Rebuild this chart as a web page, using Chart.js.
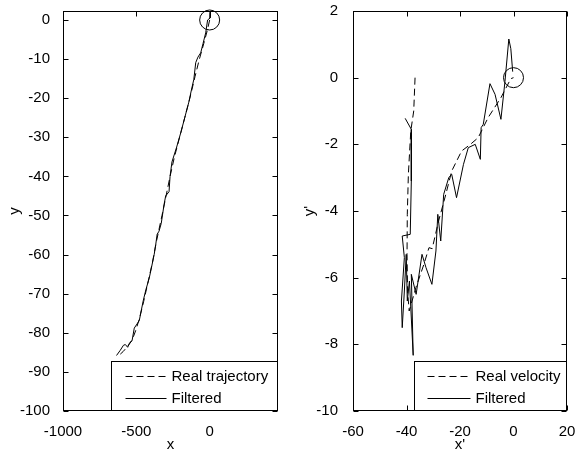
<!DOCTYPE html>
<html>
<head>
<meta charset="utf-8">
<script src="https://cdn.jsdelivr.net/npm/chart.js@4/dist/chart.umd.min.js"></script>
<style>
  html, body { margin: 0; padding: 0; background: #fff; }
  #wrap { position: relative; width: 578px; height: 456px; }
  canvas { position: absolute; top: 0; }
  #posChart { left: 0; }
  #velChart { left: 289px; }
</style>
</head>
<body>
<div id="wrap">
  <canvas id="posChart" width="289" height="456"></canvas>
  <canvas id="velChart" width="289" height="456"></canvas>
</div>
<script>
// Left panel: position
const posXLimits = [-1000, 466];
const posYLimits = [-100, 2.3];
const posXTicks = [-1000, -500, 0];
const posYTicks = [-100, -90, -80, -70, -60, -50, -40, -30, -20, -10, 0];
const realTrajX = [0, -15, -40, -70, -100, -135, -170, -205, -240, -270, -300, -325, -345, -365, -390, -420, -450, -480, -505, -530, -560, -590, -625];
const realTrajY = [0, -2.5, -6, -10, -14.5, -20, -25, -30, -35, -40, -45.5, -50, -53.5, -57, -62, -67, -72, -76.5, -79.5, -82, -83.5, -84.8, -86];
const filtTrajX = [5, 3, -14, -27, -45, -61, -80, -95, -108, -125, -142, -170, -196, -225, -257, -270, -277, -300, -311, -330, -345, -358, -368, -378, -395, -412, -435, -453, -470, -480, -500, -514, -529, -545, -559, -575, -588, -610, -635];
const filtTrajY = [2, 0.5, 0, -3.3, -6, -8.4, -9.5, -10.9, -15.2, -18, -21, -25, -28.7, -32.5, -36.3, -40, -43.9, -45, -47.2, -52, -54, -54.8, -57.5, -59.9, -63, -66, -69, -71.8, -75, -76.9, -78, -78.8, -82, -82.5, -83.7, -83, -83.2, -84.5, -85.8];

// Right panel: velocity
const velXLimits = [-60, 20];
const velYLimits = [-10, 2];
const velXTicks = [-60, -40, -20, 0, 20];
const velYTicks = [-10, -8, -6, -4, -2, 0, 2];
const realVelX = [-36.8, -37.3, -38.4, -39.3, -39.7, -39.8, -39.6, -39, -36.5, -33.5, -31.6, -30.4, -28, -25.3, -23.1, -19.4, -16.1, -13.2, -9.5, -4.7, -1, 0];
const realVelY = [0, -1.0, -1.6, -2.9, -4.1, -5.3, -6.4, -7, -6.3, -5.6, -5.1, -5.13, -4.3, -3.5, -2.8, -2.2, -2.0, -1.8, -1.2, -0.6, -0.03, 0];
const filtVelX = [-40.5, -38.2, -38.2, -38.6, -41.6, -40.8, -41.9, -41.6, -40.8, -40.1, -39.7, -38.9, -37.5, -38.2, -36.4, -34.2, -32.7, -30.5, -29, -28.3, -27.2, -26.1, -24.2, -23.1, -21.3, -18.7, -16.9, -14.3, -12.4, -12.1, -11.3, -8.8, -6.9, -4.7, -3.2, -1.75, -1.0, -0.3];
const filtVelY = [-1.22, -1.55, -3.1, -4.7, -4.75, -5.4, -6.7, -7.5, -6.4, -5.3, -6.7, -6.1, -8.33, -5.9, -6.5, -5.3, -5.7, -6.2, -5.2, -4.1, -4.9, -3.5, -3.0, -2.9, -3.6, -2.6, -2.1, -2.0, -2.45, -1.5, -1.4, -0.18, -0.5, -1.25, -0.12, 1.16, 0.87, 0.18];

const FONT = { family: "'Liberation Sans', Arial, sans-serif", size: 15 };
const zip = (xs, ys) => xs.map((x, i) => ({ x: x, y: ys[i] }));

// MATLAB style: full box, inward ticks on all four sides, legend box in the lower right
const matlabBox = {
  id: 'matlabBox',
  afterDatasetsDraw(chart) {
    const { ctx, chartArea: a, scales: { x, y } } = chart;
    const L = Math.round(a.left) + 0.5, R = Math.round(a.right) - 0.5;
    const T = Math.round(a.top) + 0.5, B = Math.round(a.bottom) - 0.5;
    ctx.save();
    ctx.strokeStyle = '#000';
    ctx.lineWidth = 1;
    ctx.strokeRect(L, T, R - L, B - T);
    ctx.beginPath();
    x.ticks.forEach(t => {
      const px = Math.round(x.getPixelForValue(t.value)) + 0.5;
      ctx.moveTo(px, B); ctx.lineTo(px, B - 5);
      ctx.moveTo(px, T); ctx.lineTo(px, T + 5);
    });
    y.ticks.forEach(t => {
      const py = Math.round(y.getPixelForValue(t.value)) + 0.5;
      ctx.moveTo(L, py); ctx.lineTo(L + 5, py);
      ctx.moveTo(R, py); ctx.lineTo(R - 5, py);
    });
    ctx.stroke();
    ctx.restore();
  },
  afterDraw(chart, args, opts) {
    const { ctx, chartArea: a } = chart;
    const R = Math.round(a.right) - 0.5, B = Math.round(a.bottom) - 0.5;
    const left = Math.round(a.right - opts.width) + 0.5;
    const top = Math.round(a.bottom - 50) + 0.5;
    ctx.save();
    ctx.fillStyle = '#fff';
    ctx.fillRect(left, top, R - left, B - top);
    ctx.strokeStyle = '#000';
    ctx.lineWidth = 1;
    ctx.strokeRect(left, top, R - left, B - top);
    const items = chart.data.datasets.filter(d => d.label);
    ctx.font = `${FONT.size}px ${FONT.family}`;
    ctx.fillStyle = '#000';
    ctx.textBaseline = 'middle';
    items.forEach((d, i) => {
      const ry = Math.round(top + 14 + i * 22) + 0.5;
      ctx.setLineDash(d.borderDash || []);
      ctx.beginPath();
      ctx.moveTo(left + opts.sampleStart, ry);
      ctx.lineTo(left + opts.sampleEnd, ry);
      ctx.stroke();
      ctx.setLineDash([]);
      ctx.fillText(d.label, left + opts.textStart, ry);
    });
    ctx.restore();
  }
};

function makeChart(id, cfg) {
  return new Chart(document.getElementById(id), {
    type: 'scatter',
    data: {
      datasets: [
        { label: cfg.realLabel, data: zip(cfg.realX, cfg.realY), showLine: true, borderColor: '#000', borderWidth: 1, borderDash: [7, 4], pointRadius: 0, order: 2 },
        { label: 'Filtered', data: zip(cfg.filtX, cfg.filtY), showLine: true, borderColor: '#000', borderWidth: 1, pointRadius: 0, order: 1 },
        { data: [{ x: 0, y: 0 }], pointRadius: 10, pointBorderColor: '#000', pointBackgroundColor: 'rgba(0,0,0,0)', pointBorderWidth: 1, clip: false, order: 0 }
      ]
    },
    options: {
      responsive: false,
      animation: false,
      devicePixelRatio: 1,
      layout: { padding: { left: 0, top: cfg.padTop, right: cfg.padRight, bottom: 0 } },
      plugins: {
        legend: { display: false },
        tooltip: { enabled: false },
        matlabBox: cfg.legend
      },
      scales: {
        x: {
          type: 'linear',
          min: cfg.xLim[0], max: cfg.xLim[1],
          border: { display: false },
          grid: { display: false },
          ticks: { color: '#000', font: FONT, padding: 4, maxRotation: 0, autoSkip: false, callback: v => String(v) },
          title: { display: true, text: cfg.xTitle, color: '#000', font: FONT, padding: { top: 0, bottom: 2 } },
          afterBuildTicks: s => { s.ticks = cfg.xTicks.map(v => ({ value: v })); },
          afterFit: s => { s.height = 45; s.paddingLeft = 0; s.paddingRight = 0; }
        },
        y: {
          type: 'linear',
          min: cfg.yLim[0], max: cfg.yLim[1],
          border: { display: false },
          grid: { display: false },
          ticks: { color: '#000', font: FONT, padding: cfg.yPad, autoSkip: false, callback: v => String(v) },
          title: { display: true, text: cfg.yTitle, color: '#000', font: FONT, padding: { top: cfg.yTitlePad, bottom: 0 } },
          afterBuildTicks: s => { s.ticks = cfg.yTicks.map(v => ({ value: v })); },
          afterFit: s => { s.width = cfg.yWidth; s.paddingTop = 0; s.paddingBottom = 0; }
        }
      }
    },
    plugins: [matlabBox]
  });
}

makeChart('posChart', {
  realLabel: 'Real trajectory', realX: realTrajX, realY: realTrajY,
  filtX: filtTrajX, filtY: filtTrajY,
  xLim: posXLimits, yLim: posYLimits, xTicks: posXTicks, yTicks: posYTicks,
  xTitle: 'x', yTitle: 'y',
  padTop: 6, padRight: 9, yWidth: 63, yPad: 5, yTitlePad: 6,
  legend: { width: 167, sampleStart: 14, sampleEnd: 55, textStart: 60 }
});

makeChart('velChart', {
  realLabel: 'Real velocity', realX: realVelX, realY: realVelY,
  filtX: filtVelX, filtY: filtVelY,
  xLim: velXLimits, yLim: velYLimits, xTicks: velXTicks, yTicks: velYTicks,
  xTitle: "x'", yTitle: "y'",
  padTop: 8, padRight: 8, yWidth: 64, yPad: 7, yTitlePad: 12,
  legend: { width: 153, sampleStart: 13, sampleEnd: 56, textStart: 61 }
});
</script>
</body>
</html>
